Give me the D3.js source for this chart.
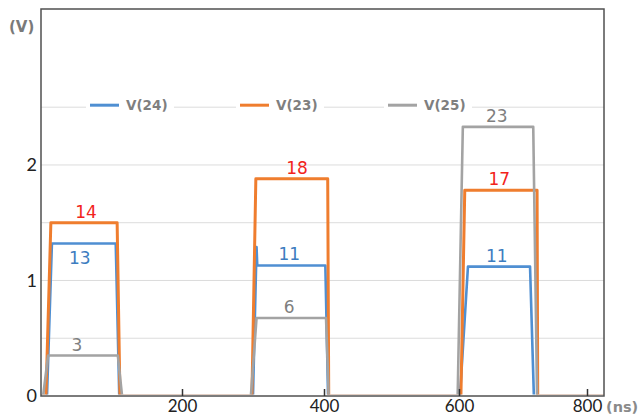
<!DOCTYPE html>
<html>
<head>
<meta charset="utf-8">
<script src="https://cdn.jsdelivr.net/npm/d3@7"></script>
<style>
  body { margin: 0; background: #fff; }
  svg { display: block; }
</style>
</head>
<body>
<div class="chart"></div>
<script>
// waveform samples: time in ns, level in V
const tBlue   = [0, 8.5, 15.5, 106, 111, 300, 305, 306, 402, 406, 601.5, 614, 711, 717, 830]
const vBlue   = [0, 0, 1.32, 1.32, 0, 0, 1.29, 1.13, 1.13, 0, 0, 1.12, 1.12, 0, 0]
const tOrange = [0, 7, 14, 108, 112, 298.5, 304, 405.5, 407, 603, 609, 722, 723, 830]
const vOrange = [0, 0, 1.5, 1.5, 0, 0, 1.88, 1.88, 0, 0, 1.78, 1.78, 0, 0]
const tGray   = [0, 3, 10, 109, 115, 297, 305, 403, 407, 598, 606, 716, 722, 830]
const vGray   = [0, 0, 0.35, 0.35, 0, 0, 0.675, 0.675, 0, 0, 2.33, 2.33, 0, 0]

const seriesNames = ['V(24)', 'V(23)', 'V(25)']
const xTicks = [200, 400, 600, 800]
const yTicks = [0, 1, 2]
const gridValues = [0.5, 1, 1.5, 2, 2.5]

// value labels: text, series index, time, level the label sits on
const labelText = ['14', '13', '3', '18', '11', '6', '23', '17', '11']
const labelSeries = [1, 0, 2, 1, 0, 2, 2, 1, 0]
const labelT = [64, 55, 51, 362, 351, 351, 659, 663, 659]
const labelV = [1.5, 1.32, 0.35, 1.88, 1.13, 0.675, 2.33, 1.78, 1.12]
const labelBelow = [false, true, false, false, false, false, false, false, false]

const colors = ['#4f8fd2', '#ef7d2e', '#a3a3a3']
const labelColors = ['#3d7dc0', '#f2231b', '#7f7f7f']

const width = 644, height = 417
const plot = { left: 41, right: 604, top: 9, bottom: 396 }

// the source picture is stretched unevenly, so the time axis is piecewise
const x = d3.scaleLinear()
  .domain([0, 200, 400, 600, 800])
  .range([plot.left, 182, 324, 459, 587])

const y = d3.scaleLinear()
  .domain([0, 3.35])
  .range([plot.bottom, plot.top])

const svg = d3.select('.chart').append('svg')
  .attr('width', width)
  .attr('height', height)

// keep the 0 V stretches hidden behind the axis line
svg.append('clipPath')
  .attr('id', 'plot-clip')
  .append('rect')
  .attr('x', plot.left).attr('y', plot.top)
  .attr('width', plot.right - plot.left)
  .attr('height', plot.bottom - plot.top - 1.5)

svg.append('g')
  .selectAll('line')
  .data(gridValues)
  .enter().append('line')
  .attr('x1', plot.left).attr('x2', plot.right)
  .attr('y1', d => y(d)).attr('y2', d => y(d))
  .attr('stroke', '#dcdcdc')
  .attr('stroke-width', 1)

// legend sits on the top grid line with a white backing
const legendX = [90, 240, 388]
const legend = svg.append('g')
  .selectAll('g')
  .data(seriesNames)
  .enter().append('g')
  .attr('transform', (d, i) => `translate(${legendX[i]},${y(2.5) - 2})`)

legend.append('rect')
  .attr('x', -4).attr('y', -9)
  .attr('width', 88).attr('height', 18)
  .attr('fill', '#fff')

legend.append('line')
  .attr('x1', 0).attr('x2', 29)
  .attr('stroke', (d, i) => colors[i])
  .attr('stroke-width', 3)

legend.append('text')
  .attr('x', 36)
  .attr('dy', '0.35em')
  .attr('font-family', 'DejaVu Sans')
  .attr('font-weight', 'bold')
  .attr('font-size', 13.5)
  .attr('fill', '#7f7f7f')
  .text(d => d)

const line = d3.line()
  .x(d => x(d[0]))
  .y(d => y(d[1]))

const series = [
  d3.zip(tBlue, vBlue),
  d3.zip(tOrange, vOrange),
  d3.zip(tGray, vGray)
]

svg.append('g')
  .attr('clip-path', 'url(#plot-clip)')
  .selectAll('path')
  .data(series)
  .enter().append('path')
  .attr('d', line)
  .attr('fill', 'none')
  .attr('stroke', (d, i) => colors[i])
  .attr('stroke-width', (d, i) => i === 1 ? 3 : 2.6)
  .attr('stroke-linejoin', 'round')

svg.append('g')
  .selectAll('text')
  .data(labelText)
  .enter().append('text')
  .attr('x', (d, i) => x(labelT[i]))
  .attr('y', (d, i) => y(labelV[i]) + (labelBelow[i] ? 20 : -5))
  .attr('text-anchor', 'middle')
  .attr('font-family', 'DejaVu Sans')
  .attr('font-size', 17)
  .attr('fill', (d, i) => labelColors[labelSeries[i]])
  .text(d => d)

// frame
svg.append('rect')
  .attr('x', plot.left).attr('y', plot.top)
  .attr('width', plot.right - plot.left).attr('height', plot.bottom - plot.top)
  .attr('fill', 'none')
  .attr('stroke', '#505050')
  .attr('stroke-width', 1.5)

const xAxis = svg.append('g')
  .attr('transform', `translate(0,${plot.bottom})`)
  .call(d3.axisBottom(x).tickValues(xTicks).tickSize(-7).tickPadding(4))
xAxis.select('.domain').remove()
xAxis.selectAll('line').attr('stroke', '#333').attr('stroke-width', 1.5)
xAxis.selectAll('text')
  .attr('font-family', 'Lato')
  .attr('font-size', 17)
  .attr('fill', '#222')

const yAxis = svg.append('g')
  .attr('transform', `translate(${plot.left},0)`)
  .call(d3.axisLeft(y).tickValues(yTicks).tickFormat(d3.format('d')).tickSize(0).tickPadding(4))
yAxis.select('.domain').remove()
yAxis.selectAll('text')
  .attr('font-family', 'Lato')
  .attr('font-size', 18)
  .attr('fill', '#222')

svg.append('text')
  .attr('x', 9).attr('y', 32)
  .attr('font-family', 'DejaVu Sans')
  .attr('font-weight', 'bold')
  .attr('font-size', 15)
  .attr('fill', '#7a7a7a')
  .text('(V)')

svg.append('text')
  .attr('x', 606).attr('y', 412)
  .attr('font-family', 'DejaVu Sans')
  .attr('font-weight', 'bold')
  .attr('font-size', 14.5)
  .attr('fill', '#8a8a8a')
  .text('(ns)')
</script>
</body>
</html>
